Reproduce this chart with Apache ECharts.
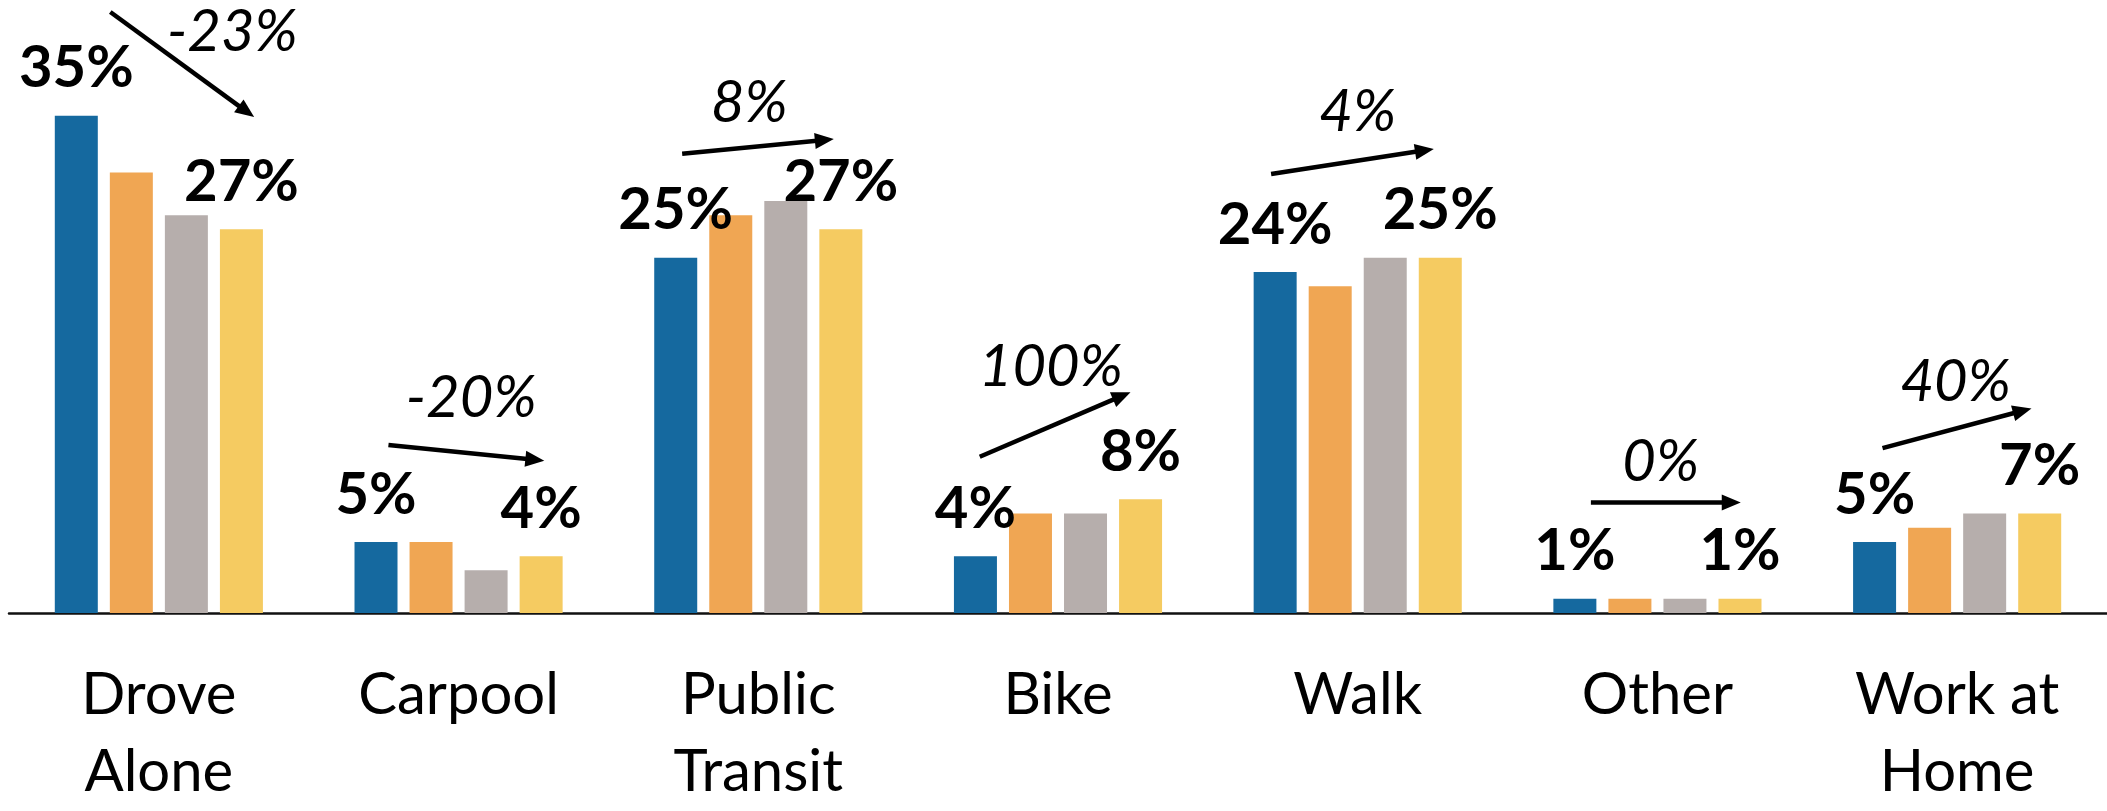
<!DOCTYPE html>
<html><head><meta charset="utf-8">
<script src="https://cdn.jsdelivr.net/npm/echarts@6/dist/echarts.min.js"></script>
<style>html,body{margin:0;padding:0;background:#fff;overflow:hidden}#c{width:2107px;height:811px}</style>
</head><body><div id="c"></div>
<script>
// ---- data ----
const categories = ['Drove\nAlone', 'Carpool', 'Public\nTransit', 'Bike', 'Walk', 'Other', 'Work at\nHome'];
const period1 = [35, 5, 25, 4, 24, 1, 5];
const period2 = [31, 5, 28, 7, 23, 1, 6];
const period3 = [28, 3, 29, 7, 25, 1, 7];
const period4 = [27, 4, 27, 8, 25, 1, 7];
const changeLabels = ['-23%', '-20%', '8%', '100%', '4%', '0%', '40%'];

// ---- annotation layout (y in axis units, x as fraction of category band) ----
const arrowStartY = [42.3, 11.83, 32.32, 11.0, 30.89, 7.77, 11.6];
const arrowEndY   = [34.9, 10.72, 33.35, 15.54, 32.66, 7.77, 14.4];
const arrowStartX = [-0.162, -0.234, -0.254, -0.261, -0.289, -0.222, -0.249];
const arrowEndX   = [0.318, 0.286, 0.252, 0.242, 0.254, 0.278, 0.248];
const changeTextX = [0.245, 0.042, -0.030, -0.024, 0, 0.011, -0.005];
const changeTextY = [40.9, 15.08, 35.89, 17.29, 35.27, 10.6, 16.25];

const FONT = 'Lato';
const colors = ['#15699F', '#F0A653', '#B6AEAC', '#F5CB61'];

const chart = echarts.init(document.getElementById('c'), null, {renderer: 'canvas'});

const barLabel = {
  show: true, position: 'top', distance: 18,
  formatter: p => p.value + '%',
  fontFamily: FONT, fontWeight: 'bold', fontSize: 58, lineHeight: 58, color: '#000'
};

function bar(name, data, color, withLabel) {
  return {
    name, type: 'bar', data, barWidth: 43, barGap: '28%',
    itemStyle: {color},
    label: withLabel ? barLabel : {show: false},
    emphasis: {disabled: true},
    animation: false
  };
}

const arrowData = categories.map((c, i) => [i, arrowStartY[i], arrowEndY[i]]);

chart.setOption({
  animation: false,
  grid: {left: 9, right: 0, top: 2, bottom: 187, containLabel: false},
  xAxis: {
    type: 'category', data: categories,
    axisTick: {show: false},
    axisLine: {lineStyle: {color: '#111', width: 2.5}},
    axisLabel: {interval: 0, fontFamily: FONT, fontSize: 58, lineHeight: 77, color: '#000', margin: 44}
  },
  yAxis: {type: 'value', min: 0, max: 43, show: false, splitLine: {show: false}},
  series: [
    bar('Period 1', period1, colors[0], true),
    bar('Period 2', period2, colors[1], false),
    bar('Period 3', period3, colors[2], false),
    bar('Period 4', period4, colors[3], true),
    {
      type: 'custom', data: arrowData, clip: false, silent: true, z: 10,
      encode: {x: 0, y: [1, 2]},
      renderItem(params, api) {
        const i = params.dataIndex;
        const band = api.size([1, 0])[0];
        const cx = api.coord([i, 0])[0];
        const x1 = cx + arrowStartX[i] * band, y1 = api.coord([i, arrowStartY[i]])[1];
        const x2 = cx + arrowEndX[i] * band, y2 = api.coord([i, arrowEndY[i]])[1];
        const ang = Math.atan2(y2 - y1, x2 - x1);
        const L = 19, W = 8;
        const bx = x2 - L * Math.cos(ang), by = y2 - L * Math.sin(ang);
        const px = -Math.sin(ang), py = Math.cos(ang);
        const tx = cx + changeTextX[i] * band, ty = api.coord([i, changeTextY[i]])[1];
        return {
          type: 'group', children: [
            {type: 'line', shape: {x1, y1, x2: bx + 2 * Math.cos(ang), y2: by + 2 * Math.sin(ang)}, style: {stroke: '#000', lineWidth: 4.5}},
            {type: 'polygon', shape: {points: [[x2, y2], [bx + px * W, by + py * W], [bx - px * W, by - py * W]]}, style: {fill: '#000'}},
            {type: 'text', x: tx, y: ty, style: {text: changeLabels[i], fontSize: 58, fontStyle: 'italic', fontFamily: FONT, fill: '#000', align: 'center', verticalAlign: 'middle'}}
          ]
        };
      }
    }
  ]
});
</script>
</body></html>
